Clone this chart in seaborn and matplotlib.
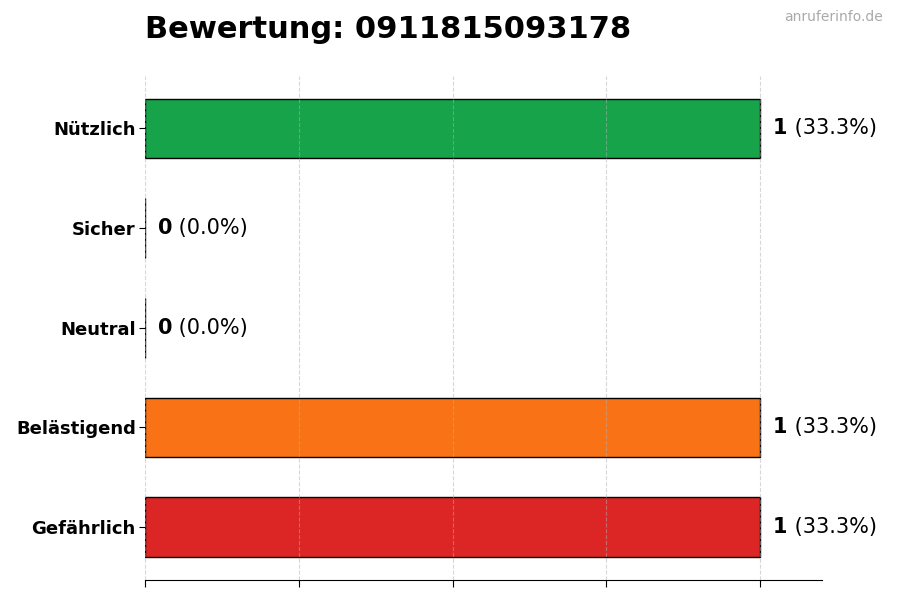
import matplotlib
matplotlib.use('Agg')
import matplotlib.pyplot as plt
import seaborn as sns
import pandas as pd

# Daten
kategorien = ['Nützlich', 'Sicher', 'Neutral', 'Belästigend', 'Gefährlich']
anzahl = [1, 0, 0, 1, 1]
farben = ['#16a34a', '#22c55e', '#9ca3af', '#f97316', '#dc2626']
nummer = '0911815093178'

gesamt = 3
df = pd.DataFrame({'Kategorie': kategorien, 'Anzahl': anzahl})

sns.set_style('white')
plt.rcParams['font.family'] = ['DejaVu Sans']
plt.rcParams['text.color'] = 'black'
plt.rcParams['xtick.color'] = 'black'
plt.rcParams['ytick.color'] = 'black'

fig = plt.figure(figsize=(9, 6), dpi=100)
ax = fig.add_axes([0.161, 0.0335, 0.752, 0.8405])

sns.barplot(data=df, y='Kategorie', x='Anzahl', hue='Kategorie', palette=farben,
            orient='h', width=0.6, edgecolor='black', linewidth=1,
            legend=False, ax=ax, saturation=1)

ax.set_xlim(0, 1.1)
ax.set_ylim(4.53, -0.53)
ax.set_xticks([0, 0.25, 0.5, 0.75, 1.0])
ax.set_xticklabels([])
ax.grid(axis='x', linestyle='--', color='#b0b0b0', alpha=0.5, linewidth=0.8)
ax.grid(axis='y', visible=False)
ax.set_axisbelow(False)
ax.set_xlabel('')
ax.set_ylabel('')
for s in ['top', 'right', 'left']:
    ax.spines[s].set_visible(False)
ax.spines['bottom'].set_color('black')
ax.tick_params(axis='x', length=5, color='black', bottom=True)
ax.tick_params(axis='y', length=4, color='black', left=True, pad=2.5)
for lbl in ax.get_yticklabels():
    lbl.set_fontweight('bold')
    lbl.set_fontsize(13)
    lbl.set_color('black')

# Beschriftungen
for i, n in enumerate(anzahl):
    t1 = ax.text(n + 0.021, i, str(n), fontsize=15, fontweight='bold',
                 va='center', ha='left', color='black')
    ax.annotate(f' ({n / gesamt * 100:.1f}%)', xy=(1, 0.5), xycoords=t1,
                va='center', ha='left', fontsize=15, color='black')

fig.text(0.161, 0.95, f'Bewertung: {nummer}', fontsize=22, fontweight='bold',
         ha='left', va='center', color='black')
fig.text(0.981, 0.972, 'anruferinfo.de', fontsize=10, color='#aaaaaa',
         ha='right', va='center')

fig.savefig('out.png', dpi=100)
